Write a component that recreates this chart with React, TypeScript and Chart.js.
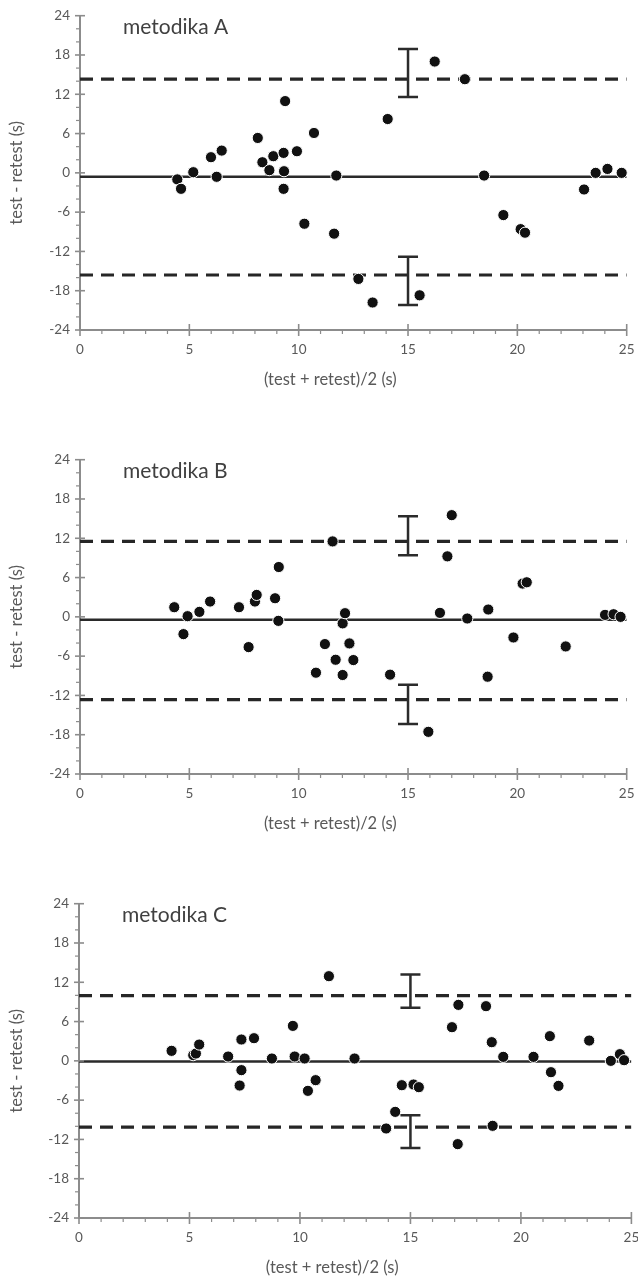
import React, { useEffect, useRef } from "react";
import { Chart, registerables } from "chart.js";
Chart.register(...registerables);

// ---------- data ----------
const panelLabels = ["metodika A", "metodika B", "metodika C"];
const xTitle = "(test + retest)/2 (s)";
const yTitle = "test - retest (s)";
const xTickValues = [0, 5, 10, 15, 20, 25];
const yTickValues = [-24, -18, -12, -6, 0, 6, 12, 18, 24];
const lineX = [0, 25];
const ciX = 15;

const xA = [4.45, 4.62, 5.18, 5.99, 6.48, 6.25, 8.13, 8.34, 8.84, 8.66, 9.31, 9.33, 9.31, 9.38, 9.92, 10.7, 10.26, 11.62, 11.72, 14.07, 16.22, 17.6, 12.73, 13.38, 15.53, 18.48, 19.36, 20.15, 20.35, 23.05, 23.58, 24.12, 24.77];
const yA = [-1.0, -2.44, 0.1, 2.39, 3.4, -0.6, 5.33, 1.62, 2.54, 0.41, 3.05, 0.25, -2.44, 10.96, 3.3, 6.09, -7.77, -9.29, -0.41, 8.22, 17.0, 14.3, -16.2, -19.8, -18.7, -0.41, -6.45, -8.6, -9.14, -2.54, 0, 0.6, 0];
const limitsA = [-0.6, 14.3, -15.6]; // mean, upper, lower
const ciUpperA = [11.6, 18.9];
const ciLowerA = [-20.2, -12.8];

const xB = [4.31, 4.73, 4.92, 5.46, 5.95, 7.27, 7.71, 8.0, 8.08, 8.92, 9.09, 9.07, 11.55, 10.79, 11.2, 11.69, 12.01, 12.01, 12.12, 12.32, 12.5, 14.18, 15.93, 17.0, 16.8, 16.46, 17.71, 18.67, 18.64, 19.82, 20.24, 20.43, 22.21, 24.01, 24.4, 24.72];
const yB = [1.47, -2.64, 0.1, 0.76, 2.34, 1.47, -4.62, 2.34, 3.35, 2.84, 7.61, -0.61, 11.52, -8.53, -4.16, -6.55, -8.88, -1.0, 0.56, -4.06, -6.6, -8.83, -17.56, 15.53, 9.24, 0.61, -0.25, 1.12, -9.14, -3.15, 5.08, 5.28, -4.52, 0.3, 0.4, 0];
const limitsB = [-0.46, 11.52, -12.64];
const ciUpperB = [9.39, 15.38];
const ciLowerB = [-16.35, -10.36];

const xC = [4.19, 5.17, 5.29, 5.44, 6.75, 7.35, 7.92, 7.35, 7.27, 8.73, 9.68, 9.76, 10.21, 10.36, 10.71, 11.31, 12.47, 13.9, 14.31, 14.61, 15.14, 15.38, 17.14, 16.88, 17.17, 18.42, 18.68, 18.72, 19.2, 20.57, 21.31, 21.36, 21.7, 23.09, 24.07, 24.48, 24.67];
const yC = [1.53, 0.87, 1.12, 2.49, 0.66, 3.26, 3.46, -1.42, -3.77, 0.36, 5.34, 0.66, 0.36, -4.58, -2.95, 12.93, 0.36, -10.33, -7.79, -3.72, -3.61, -4.02, -12.72, 5.14, 8.55, 8.35, 2.85, -9.92, 0.61, 0.61, 3.77, -1.73, -3.82, 3.1, 0, 1.02, 0.1];
const limitsC = [-0.1, 9.97, -10.13];
const ciUpperC = [8.1, 13.2];
const ciLowerC = [-13.3, -8.3];

// ---------- styling ----------
const FONT = "Lato, 'Open Sans', sans-serif";
const AXIS_GREY = "#8c8c8c";
const LABEL_GREY = "#595959";

const decorPlugin = {
  id: "decor",
  afterDatasetsDraw(chart: any, _args: any, opts: any) {
    const { ctx, chartArea } = chart;
    const xs = chart.scales.x;
    const ys = chart.scales.y;
    ctx.save();
    // CI error bars
    ctx.strokeStyle = "#2b2b2b";
    ctx.lineWidth = 2.5;
    const px = xs.getPixelForValue(opts.ciX);
    for (const bar of opts.bars) {
      const p1 = ys.getPixelForValue(bar[0]);
      const p2 = ys.getPixelForValue(bar[1]);
      ctx.beginPath();
      ctx.moveTo(px, p1);
      ctx.lineTo(px, p2);
      ctx.moveTo(px - 10, p1);
      ctx.lineTo(px + 10, p1);
      ctx.moveTo(px - 10, p2);
      ctx.lineTo(px + 10, p2);
      ctx.stroke();
    }
    // panel label
    ctx.fillStyle = "#404040";
    ctx.font = `21px ${FONT}`;
    ctx.textBaseline = "alphabetic";
    ctx.textAlign = "left";
    ctx.fillText(opts.label, chartArea.left + 43, chartArea.top + 18);
    ctx.restore();
  },
  afterDraw(chart: any, _args: any, opts: any) {
    const { ctx, chartArea } = chart;
    const xs = chart.scales.x;
    const ys = chart.scales.y;
    ctx.save();
    ctx.strokeStyle = AXIS_GREY;
    // y ticks
    for (let v = -24; v <= 24; v += 2) {
      const py = ys.getPixelForValue(v);
      const major = v % 6 === 0;
      ctx.lineWidth = major ? 1.6 : 1.2;
      ctx.beginPath();
      if (major) {
        ctx.moveTo(chartArea.left - 5, py);
        ctx.lineTo(chartArea.left + 5, py);
      } else {
        ctx.moveTo(chartArea.left - 4, py);
        ctx.lineTo(chartArea.left, py);
      }
      ctx.stroke();
    }
    // x ticks
    for (let v = 0; v <= 25; v += 1) {
      const pxv = xs.getPixelForValue(v);
      const major = v % 5 === 0;
      ctx.lineWidth = major ? 1.6 : 1.2;
      ctx.beginPath();
      if (major) {
        ctx.moveTo(pxv, chartArea.bottom - 6);
        ctx.lineTo(pxv, chartArea.bottom + 6);
      } else {
        ctx.moveTo(pxv, chartArea.bottom);
        ctx.lineTo(pxv, chartArea.bottom + 4);
      }
      ctx.stroke();
    }
    // x axis title (sits left of the plot centre, as in the source figure)
    ctx.fillStyle = LABEL_GREY;
    ctx.font = `16.5px ${FONT}`;
    ctx.textAlign = "center";
    ctx.textBaseline = "middle";
    ctx.fillText(opts.xTitle, (chartArea.left + chartArea.right) / 2 - 23, chartArea.bottom + 50);
    ctx.restore();
  },
};

type PanelProps = {
  label: string;
  xs: number[];
  ys: number[];
  limits: number[];
  ciUp: number[];
  ciLow: number[];
  top: number;
  leftW: number;
  rightPad: number;
};

function Panel(p: PanelProps) {
  const ref = useRef<HTMLCanvasElement | null>(null);
  useEffect(() => {
    if (!ref.current) return;
    const pts = p.xs.map((x, i) => ({ x, y: p.ys[i] }));
    const hline = (v: number) => lineX.map((x) => ({ x, y: v }));
    const chart = new Chart(ref.current, {
      type: "scatter",
      data: {
        datasets: [
          {
            data: pts,
            backgroundColor: "#111111",
            borderColor: "#ffffff",
            borderWidth: 1,
            pointRadius: 5.6,
            pointHoverRadius: 5.6,
            order: 0,
            clip: false as any,
          },
          {
            data: hline(p.limits[0]),
            showLine: true,
            borderColor: "#2a2a2a",
            borderWidth: 2.5,
            pointRadius: 0,
            order: 1,
          },
          {
            data: hline(p.limits[1]),
            showLine: true,
            borderColor: "#262626",
            borderWidth: 3.2,
            borderDash: [13, 8],
            pointRadius: 0,
            order: 1,
          },
          {
            data: hline(p.limits[2]),
            showLine: true,
            borderColor: "#262626",
            borderWidth: 3.2,
            borderDash: [13, 8],
            pointRadius: 0,
            order: 1,
          },
        ],
      },
      options: {
        animation: false,
        responsive: true,
        maintainAspectRatio: false,
        layout: { padding: { top: 15.7, right: p.rightPad, left: 0, bottom: 0 } },
        scales: {
          x: {
            type: "linear",
            min: 0,
            max: 25,
            afterBuildTicks: (s: any) => {
              s.ticks = xTickValues.map((v) => ({ value: v }));
            },
            ticks: {
              color: LABEL_GREY,
              font: { family: FONT, size: 13.5 },
              padding: 12,
              maxRotation: 0,
              autoSkip: false,
            },
            grid: { display: false, drawTicks: false },
            border: { display: true, color: AXIS_GREY, width: 2 },
            title: { display: false, text: xTitle },
            afterFit: (s: any) => {
              s.height = 63;
              s.paddingLeft = 0;
              s.paddingRight = 0;
            },
          },
          y: {
            type: "linear",
            min: -24,
            max: 24,
            afterBuildTicks: (s: any) => {
              s.ticks = yTickValues.map((v) => ({ value: v }));
            },
            ticks: {
              color: LABEL_GREY,
              font: { family: FONT, size: 13.5 },
              padding: 10,
            },
            grid: { display: false, drawTicks: false },
            border: { display: true, color: AXIS_GREY, width: 2 },
            title: {
              display: true,
              text: yTitle,
              color: LABEL_GREY,
              font: { family: FONT, size: 16.5 },
              padding: { top: 7, bottom: 0 },
            },
            afterFit: (s: any) => {
              s.width = p.leftW;
              s.paddingTop = 0;
              s.paddingBottom = 0;
            },
          },
        },
        plugins: {
          legend: { display: false },
          tooltip: { enabled: false },
          decor: { label: p.label, ciX, bars: [p.ciUp, p.ciLow], xTitle },
        } as any,
      },
      plugins: [decorPlugin],
    });
    return () => chart.destroy();
  }, []);
  return (
    <div style={{ position: "absolute", left: 0, top: p.top, width: 638, height: 393 }}>
      <canvas ref={ref} />
    </div>
  );
}

export default function App() {
  return (
    <div
      style={{
        position: "absolute",
        left: 0,
        top: 0,
        width: 638,
        height: 1281,
        overflow: "hidden",
        background: "#ffffff",
      }}
    >
      <Panel label={panelLabels[0]} xs={xA} ys={yA} limits={limitsA} ciUp={ciUpperA} ciLow={ciLowerA} top={0} leftW={80} rightPad={11.3} />
      <Panel label={panelLabels[1]} xs={xB} ys={yB} limits={limitsB} ciUp={ciUpperB} ciLow={ciLowerB} top={444} leftW={80} rightPad={11.3} />
      <Panel label={panelLabels[2]} xs={xC} ys={yC} limits={limitsC} ciUp={ciUpperC} ciLow={ciLowerC} top={888} leftW={79} rightPad={5.7} />
    </div>
  );
}
